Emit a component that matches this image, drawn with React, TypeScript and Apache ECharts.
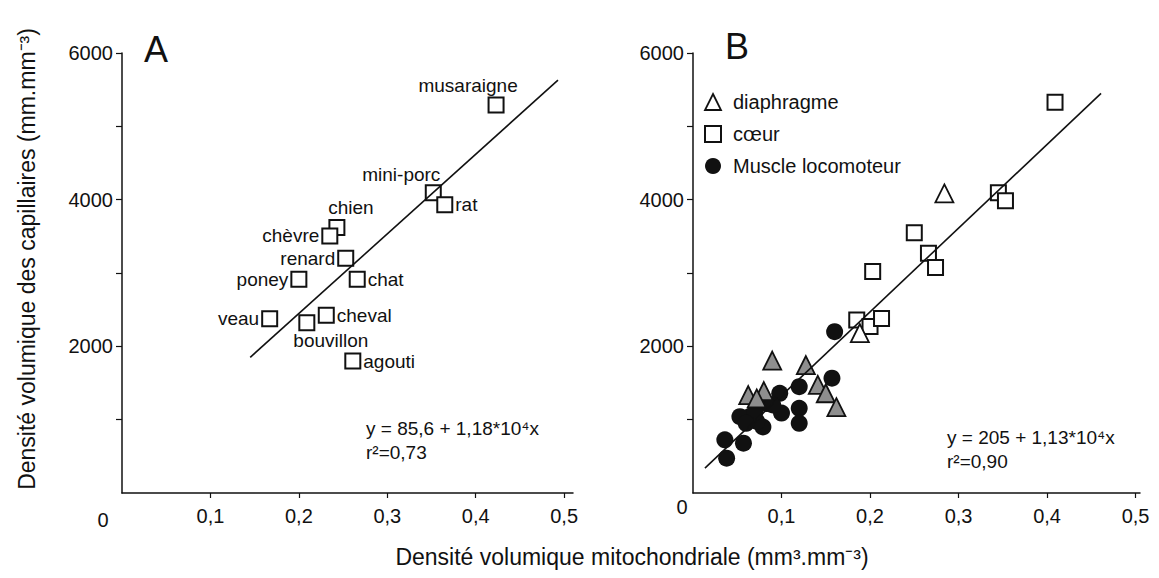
import React, { useEffect, useRef } from "react";
import * as echarts from "echarts";

// ---- Panel A : species (cœur) ----
const speciesA = ["musaraigne", "mini-porc", "rat", "chien", "chèvre", "renard", "poney", "chat", "veau", "bouvillon", "cheval", "agouti"];
const mitoA = [0.423, 0.352, 0.365, 0.243, 0.235, 0.253, 0.2, 0.266, 0.167, 0.209, 0.231, 0.261];
const capA = [5290, 4095, 3930, 3620, 3505, 3200, 2915, 2915, 2375, 2320, 2425, 1800];
const fitAx = [0.145, 0.493];
const fitAy = [1850, 5630];

// ---- Panel B ----
const coeurX = [0.409, 0.345, 0.353, 0.25, 0.266, 0.274, 0.203, 0.185, 0.2, 0.213];
const coeurY = [5330, 4095, 3985, 3550, 3270, 3075, 3020, 2360, 2270, 2380];
const diaphGrisX = [0.0895, 0.1275, 0.0624, 0.08, 0.072, 0.141, 0.15, 0.162];
const diaphGrisY = [1805, 1745, 1335, 1390, 1290, 1475, 1360, 1170];
const diaphBlancX = [0.284, 0.1885];
const diaphBlancY = [4085, 2180];
const muscleX = [0.16, 0.157, 0.12, 0.12, 0.12, 0.098, 0.1, 0.083, 0.079, 0.072, 0.064, 0.053, 0.07, 0.057, 0.036, 0.038, 0.09, 0.06];
const muscleY = [2200, 1565, 1450, 1155, 950, 1360, 1090, 1220, 900, 975, 1040, 1040, 1100, 680, 725, 475, 1200, 950];
const fitBx = [0.0135, 0.461];
const fitBy = [340, 5450];

const xTicks = [0.1, 0.2, 0.3, 0.4, 0.5];
const yTicks = [1000, 2000, 3000, 4000, 5000, 6000];
const yLabels = [2000, 4000, 6000];

const labelPlacement: Record<string, any> = {
  musaraigne: { position: "top", offset: [-28, 0] },
  "mini-porc": { position: "top", offset: [-32, 2] },
  rat: { position: "right" },
  chien: { position: "top", offset: [14, 0] },
  "chèvre": { position: "left" },
  renard: { position: "left" },
  poney: { position: "left" },
  chat: { position: "right" },
  veau: { position: "left" },
  bouvillon: { position: "bottom", offset: [24, -2] },
  cheval: { position: "right" },
  agouti: { position: "right" },
};

const FONT = "'Liberation Sans', Arial, Helvetica, sans-serif";
const INK = "#111";

const zip = (xs: number[], ys: number[]) => xs.map((x, i) => [x, ys[i]]);

function xAxis(gridIndex: number, max: number) {
  return {
    type: "value",
    gridIndex,
    min: 0,
    max,
    splitLine: { show: false },
    axisLine: { lineStyle: { color: INK, width: 1.5 } },
    axisTick: { customValues: xTicks, length: 5, lineStyle: { color: INK, width: 1.2 } },
    axisLabel: {
      customValues: xTicks,
      formatter: (v: number) => v.toFixed(1).replace(".", ","),
      fontSize: 20,
      fontFamily: FONT,
      color: INK,
      margin: 13,
    },
  };
}

function yAxis(gridIndex: number) {
  return {
    type: "value",
    gridIndex,
    min: 0,
    max: 6000,
    splitLine: { show: false },
    axisLine: { lineStyle: { color: INK, width: 1.5 } },
    axisTick: { customValues: yTicks, length: 6, lineStyle: { color: INK, width: 1.2 } },
    axisLabel: {
      customValues: yLabels,
      formatter: (v: number) => String(v),
      fontSize: 20,
      fontFamily: FONT,
      color: INK,
      margin: 9,
    },
  };
}

export default function App() {
  const ref = useRef<HTMLDivElement>(null);
  useEffect(() => {
    document.body.style.margin = "0";
    const chart = echarts.init(ref.current!, null, { renderer: "svg" });
    const squareStyle = { color: "#fff", borderColor: INK, borderWidth: 2, opacity: 1 };
    const option: any = {
      animation: false,
      backgroundColor: "#fff",
      grid: [
        { left: 122, top: 53, width: 451, height: 440 },
        { left: 693, top: 53, width: 447, height: 440 },
      ],
      xAxis: [xAxis(0, 0.51), xAxis(1, 0.505)],
      yAxis: [yAxis(0), yAxis(1)],
      legend: {
        orient: "vertical",
        left: 704,
        top: 92,
        padding: 0,
        itemGap: 12,
        itemWidth: 16,
        itemHeight: 16,
        textStyle: { fontSize: 20, fontFamily: FONT, color: INK, padding: [0, 0, 0, 7] },
        data: [
          { name: "diaphragme", icon: "triangle", itemStyle: { color: "#fff", borderColor: INK, borderWidth: 1.8, opacity: 1 } },
          { name: "cœur", icon: "rect", itemStyle: { color: "#fff", borderColor: INK, borderWidth: 2, opacity: 1 } },
          { name: "Muscle locomoteur", icon: "circle", itemStyle: { color: INK, opacity: 1 } },
        ],
      },
      series: [
        {
          type: "line",
          xAxisIndex: 0,
          yAxisIndex: 0,
          data: zip(fitAx, fitAy),
          symbol: "none",
          lineStyle: { color: INK, width: 1.6 },
          silent: true,
        },
        {
          type: "scatter",
          name: "espèces",
          xAxisIndex: 0,
          yAxisIndex: 0,
          symbol: "rect",
          symbolSize: 15,
          itemStyle: squareStyle,
          label: {
            show: true,
            formatter: "{b}",
            fontSize: 19,
            fontFamily: FONT,
            color: INK,
            distance: 2,
          },
          data: speciesA.map((n, i) => ({
            name: n,
            value: [mitoA[i], capA[i]],
            label: labelPlacement[n],
          })),
        },
        {
          type: "line",
          xAxisIndex: 1,
          yAxisIndex: 1,
          data: zip(fitBx, fitBy),
          symbol: "none",
          lineStyle: { color: INK, width: 1.6 },
          silent: true,
        },
        {
          type: "scatter",
          name: "cœur",
          xAxisIndex: 1,
          yAxisIndex: 1,
          symbol: "rect",
          symbolSize: 15,
          itemStyle: squareStyle,
          data: zip(coeurX, coeurY),
        },
        {
          type: "scatter",
          name: "diaphragme",
          xAxisIndex: 1,
          yAxisIndex: 1,
          symbol: "triangle",
          symbolSize: 18,
          itemStyle: { color: "#fff", borderColor: INK, borderWidth: 1.8, opacity: 1 },
          data: zip(diaphBlancX, diaphBlancY),
        },
        {
          type: "scatter",
          name: "Muscle locomoteur",
          xAxisIndex: 1,
          yAxisIndex: 1,
          symbol: "circle",
          symbolSize: 17,
          itemStyle: { color: INK, opacity: 1 },
          data: zip(muscleX, muscleY),
        },
        {
          type: "scatter",
          name: "diaphragme",
          xAxisIndex: 1,
          yAxisIndex: 1,
          symbol: "triangle",
          symbolSize: 18,
          itemStyle: { color: "#8e8e8e", borderColor: INK, borderWidth: 1.8, opacity: 1 },
          data: zip(diaphGrisX, diaphGrisY),
        },
      ],
      graphic: [
        { type: "text", left: 144, top: 31, style: { text: "A", fontSize: 36, fontFamily: FONT, fill: INK } },
        { type: "text", left: 725, top: 28, style: { text: "B", fontSize: 36, fontFamily: FONT, fill: INK } },
        { type: "text", x: 103, y: 520, style: { text: "0", fontSize: 20, fontFamily: FONT, fill: INK, align: "center", verticalAlign: "middle" } },
        { type: "text", x: 682, y: 507, style: { text: "0", fontSize: 20, fontFamily: FONT, fill: INK, align: "center", verticalAlign: "middle" } },
        { type: "text", x: 366, y: 428, style: { text: "y = 85,6 + 1,18*10⁴x", fontSize: 19, fontFamily: FONT, fill: INK, verticalAlign: "middle" } },
        { type: "text", x: 366, y: 452, style: { text: "r²=0,73", fontSize: 19, fontFamily: FONT, fill: INK, verticalAlign: "middle" } },
        { type: "text", x: 947, y: 437, style: { text: "y = 205 + 1,13*10⁴x", fontSize: 19, fontFamily: FONT, fill: INK, verticalAlign: "middle" } },
        { type: "text", x: 947, y: 461, style: { text: "r²=0,90", fontSize: 19, fontFamily: FONT, fill: INK, verticalAlign: "middle" } },
        {
          type: "text",
          x: 632,
          y: 557,
          style: { text: "Densité volumique mitochondriale (mm³.mm⁻³)", fontSize: 23, fontFamily: FONT, fill: INK, align: "center", verticalAlign: "middle" },
        },
        {
          type: "text",
          x: 27,
          y: 259,
          rotation: Math.PI / 2,
          style: { text: "Densité volumique des capillaires (mm.mm⁻³)", fontSize: 23, fontFamily: FONT, fill: INK, align: "center", verticalAlign: "middle" },
        },
      ],
    };
    chart.setOption(option);
    return () => chart.dispose();
  }, []);
  return <div ref={ref} style={{ width: 1159, height: 578 }} />;
}
